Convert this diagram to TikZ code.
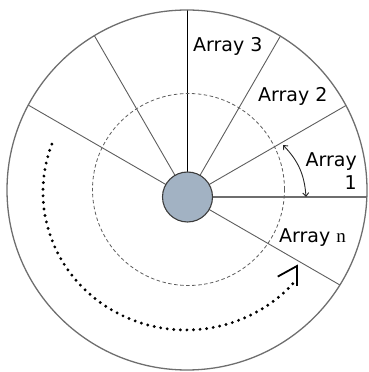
\documentclass[tikz,border=0pt]{standalone}
\usepackage{fontspec}
\setmainfont{DejaVu Sans}
\newfontfamily\serifn{Liberation Serif}
\usetikzlibrary{arrows.meta,calc}
\definecolor{ringgray}{HTML}{6E6E6E}
\definecolor{spokegray}{HTML}{5E5E5E}
\definecolor{hubfill}{HTML}{A2B2C3}
\definecolor{hubdraw}{HTML}{3C3C3C}
\begin{document}
\begin{tikzpicture}[x=1pt,y=1pt,
  spoke/.style={draw=spokegray, line width=0.9pt},
  outerring/.style={draw=ringgray, line width=1.3pt},
  dashring/.style={draw=spokegray, line width=0.8pt, dash pattern=on 3.5pt off 2.5pt},
  hub/.style={circle, draw=hubdraw, fill=hubfill, line width=1.1pt, minimum size=50pt, inner sep=0pt},
  dotline/.style={line width=3.2pt, line cap=round, dash pattern=on 0pt off 6.6pt},
  barb/.style={line width=1.8pt, line cap=butt},
  label/.style={font=\fontsize{19}{23.3}\selectfont, inner sep=0pt},
  angarrow/.style={draw=black!85, line width=0.9pt, {Straight Barb[length=3.5pt,width=6pt]}-{Straight Barb[length=3.5pt,width=6pt]}}
]
\useasboundingbox (0,0) rectangle (368,372);
\coordinate (O) at (187,182);
\coordinate (H) at (187.5,175);
\coordinate (D) at (188.5,182.5);
\begin{scope}
  \clip (O) circle (180);
  \foreach \a in {30,60,120,150,-30} \draw[spoke] (H) -- ++(\a:220);
  \draw[spoke, draw=black, line width=1.1pt] (H) -- ++(90:220);
  \draw[spoke, draw=ringgray, line width=1.8pt] (H) -- ++(0:220);
\end{scope}
\draw[outerring] (O) circle (180);
\draw[dashring] (D) circle (96);
\node[hub] (hub) at (H) {};
% rotation arrow
\coordinate (E) at (186,180);
\draw[dotline] (E) ++(159.7:143 and 138) arc[start angle=159.7, end angle=320, x radius=143, y radius=138];
\coordinate (tip) at (297,106);
\draw[barb] ($(tip)+(208.8:22)$) -- (tip) -- ++(270:20);
% angle arrow
\coordinate (p) at (283,227);
\coordinate (q) at (306,175);
\draw[angarrow] (p) to[bend left=20] (q);
% labels
\node[label, anchor=base west] (a3) at (193,320) {Array 3};
\node[label, anchor=base west] (a2) at (258,270) {Array 2};
\node[label, anchor=base east, align=right] (a1) at (357,182) {Array\\1};
\node[label, anchor=base west] (an) at (279,129.3) {Array {\serifn n}};
\end{tikzpicture}
\end{document}
